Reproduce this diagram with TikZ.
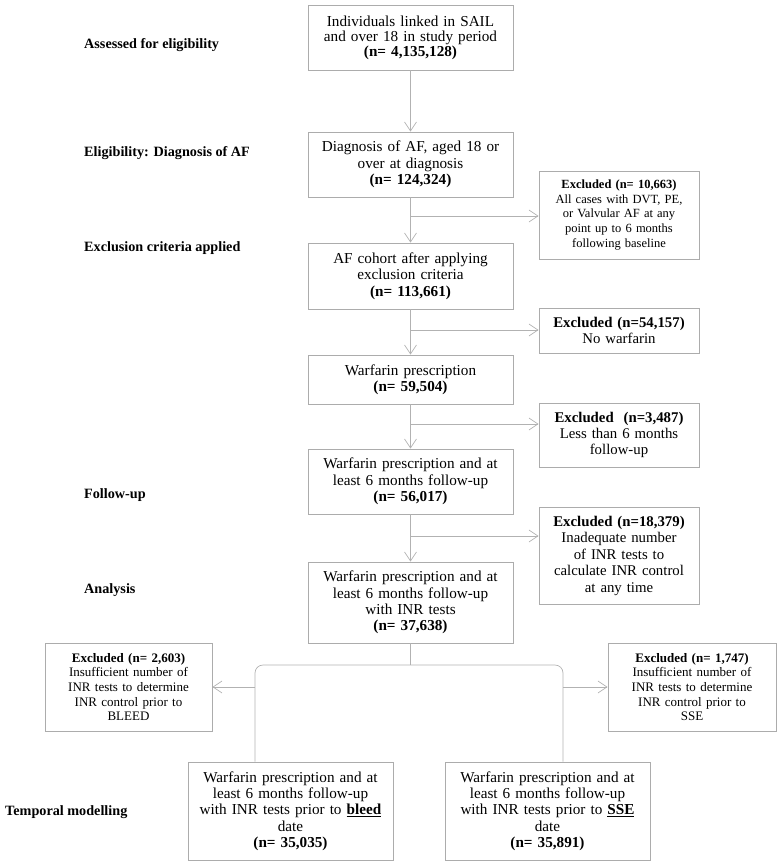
\documentclass[tikz,border=0pt]{standalone}
\usepackage{fontspec}
\setmainfont{Liberation Serif}
\usetikzlibrary{arrows.meta}

\begin{document}
\begin{tikzpicture}[
    x=1pt, y=-1pt,
    stagebox/.style={rectangle, draw=gray!65, line width=0.8pt, fill=white, inner sep=0pt, text width=205pt, align=center, font=\fontsize{15.2}{16.3}\selectfont},
    exclbox/.style={rectangle, draw=gray!65, line width=0.8pt, fill=white, inner sep=0pt, text width=160pt, align=center, font=\fontsize{12.5}{14.7}\selectfont},
    phase/.style={anchor=west, inner sep=0pt, font=\bfseries\fontsize{14.2}{16}\selectfont},
    line/.style={draw=gray!60, line width=0.7pt},
    arrow/.style={line, -{Straight Barb[length=9pt, width=12pt]}}
]
    \useasboundingbox (0,0) rectangle (777,865);

    % phase labels on the left
    \node (lassess) [phase] at (84,45) {Assessed for eligibility};
    \node (leligible) [phase] at (84,153) {Eligibility: Diagnosis of AF};
    \node (lexclude) [phase] at (84,248) {Exclusion criteria applied};
    \node (lfollow) [phase] at (84,495) {Follow-up};
    \node (lanalysis) [phase] at (84,590) {Analysis};
    \node (ltemporal) [phase] at (5,812) {Temporal modelling};

    % main column
    \node (linked) [stagebox, minimum height=65pt, font=\fontsize{15.2}{15}\selectfont] at (410.5,37.5) {Individuals linked in SAIL\\and over 18 in study period\\\textbf{(n= 4,135,128)}};
    \node (diagnosis) [stagebox, minimum height=65pt] at (410.5,164.5) {Diagnosis of AF, aged 18 or\\over at diagnosis\\\textbf{(n= 124,324)}};
    \node (cohort) [stagebox, minimum height=66pt] at (410.5,276) {AF cohort after applying\\exclusion criteria\\\textbf{(n= 113,661)}};
    \node (warfarin) [stagebox, minimum height=49pt] at (410.5,379.5) {Warfarin prescription\\\textbf{(n= 59,504)}};
    \node (followup) [stagebox, minimum height=65pt] at (410.5,481.5) {Warfarin prescription and at\\least 6 months follow-up\\\textbf{(n= 56,017)}};
    \node (inrtests) [stagebox, minimum height=81pt] at (410.5,602.5) {Warfarin prescription and at\\least 6 months follow-up\\with INR tests\\\textbf{(n= 37,638)}};

    % exclusions on the right
    \node (exvalve) [exclbox, minimum height=88pt] at (619,215) {\textbf{Excluded (n= 10,663)}\\All cases with DVT, PE,\\or Valvular AF at any\\point up to 6 months\\following baseline};
    \node (exwarf) [exclbox, minimum height=45pt, font=\fontsize{14.8}{16}\selectfont] at (619,330.5) {\textbf{Excluded (n=54,157)}\\No warfarin};
    \node (exshort) [exclbox, minimum height=64pt, font=\fontsize{14.8}{16}\selectfont] at (619,435) {\textbf{Excluded\ \ (n=3,487)}\\Less than 6 months\\follow-up};
    \node (exinr) [exclbox, minimum height=97pt, font=\fontsize{14.8}{16.5}\selectfont] at (619,555.5) {\textbf{Excluded (n=18,379)}\\Inadequate number\\of INR tests to\\calculate INR control\\at any time};

    % bottom split
    \node (exbleed) [exclbox, text width=167pt, minimum height=88pt, font=\fontsize{13}{14.6}\selectfont] at (128.5,687) {\textbf{Excluded (n= 2,603)}\\Insufficient number of\\INR tests to determine\\INR control prior to\\BLEED};
    \node (exsse) [exclbox, text width=168pt, minimum height=88pt, font=\fontsize{13}{14.6}\selectfont] at (692,687) {\textbf{Excluded (n= 1,747)}\\Insufficient number of\\INR tests to determine\\INR control prior to\\SSE};
    \node (bleed) [stagebox, minimum height=98pt] at (290.5,811) {Warfarin prescription and at\\least 6 months follow-up\\with INR tests prior to \underline{\textbf{bleed}}\\date\\\textbf{(n= 35,035)}};
    \node (sse) [stagebox, minimum height=98pt] at (547.5,811) {Warfarin prescription and at\\least 6 months follow-up\\with INR tests prior to \underline{\textbf{SSE}}\\date\\\textbf{(n= 35,891)}};

    % branch points
    \coordinate (bvalve) at (410.5,216);
    \coordinate (bwarf) at (410.5,330);
    \coordinate (bshort) at (410.5,424);
    \coordinate (binr) at (410.5,536);
    \coordinate (splitl) at (255,665);
    \coordinate (splitr) at (563,665);

    \draw [arrow] (linked) -- (diagnosis);
    \draw [arrow] (diagnosis) -- (cohort);
    \draw [arrow] (cohort) -- (warfarin);
    \draw [arrow] (warfarin) -- (followup);
    \draw [arrow] (followup) -- (inrtests);

    \draw [arrow] (bvalve) -- (bvalve -| exvalve.west);
    \draw [arrow] (bwarf) -- (bwarf -| exwarf.west);
    \draw [arrow] (bshort) -- (bshort -| exshort.west);
    \draw [arrow] (binr) -- (binr -| exinr.west);

    \draw [line] (inrtests.south) -- (inrtests.south |- splitl);
    \draw [line, rounded corners=8pt] (splitl |- bleed.north) -- (splitl) -- (splitr) -- (splitr |- sse.north);
    \draw [arrow] (splitl |- exbleed.east) -- (exbleed.east);
    \draw [arrow] (splitr |- exsse.west) -- (exsse.west);
\end{tikzpicture}
\end{document}
